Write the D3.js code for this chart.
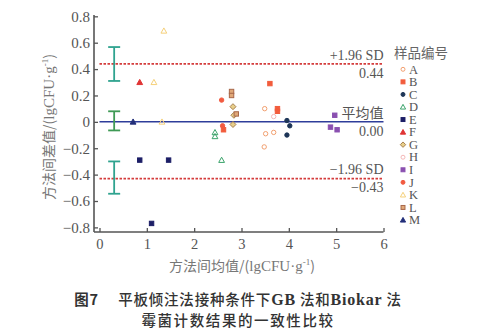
<!DOCTYPE html>
<html><head><meta charset="utf-8">
<script src="https://cdn.jsdelivr.net/npm/d3@7"></script>
<style>
html,body{margin:0;padding:0;background:#fff;}
svg{display:block;}
</style></head>
<body>
<svg id="chart" width="491" height="334"></svg>
<script>
// ---- data ----
const sampleIds = ["A","B","C","D","E","F","G","H","I","J","K","L","M"];
const ptsA = [[3.49,0.10],[3.51,-0.09],[3.68,-0.08],[3.48,-0.19]];
const ptsB = [[3.60,0.29],[3.76,0.10],[3.76,0.08],[2.62,-0.06]];
const ptsC = [[3.96,0.01],[4.02,-0.03],[3.96,-0.10]];
const ptsD = [[2.44,-0.08],[2.44,-0.11],[2.58,-0.29]];
const ptsE = [[0.85,-0.29],[1.46,-0.29],[1.10,-0.77]];
const ptsF = [[0.85,0.30]];
const ptsG = [[2.82,0.115],[2.84,0.05],[2.82,-0.02]];
const ptsH = [[3.68,0.04]];
const ptsI = [[4.97,0.05],[4.88,-0.04],[5.02,-0.06]];
const ptsJ = [[2.58,0.165],[2.60,-0.03]];
const ptsK = [[1.15,0.30],[1.36,0.69],[1.32,0.00]];
const ptsL = [[2.79,0.23],[2.79,0.20],[2.89,0.06]];
const ptsM = [[0.71,0.00]];
const meanDiff = 0.00;
const upperLoA = 0.44;
const lowerLoA = -0.43;
const ciUpper = [0.31, 0.567];
const ciMean = [-0.065, 0.08];
const ciLower = [-0.545, -0.30];
const ciX = 0.31;
const xTicks = [0,1,2,3,4,5,6];
const yTicks = [-0.8,-0.6,-0.4,-0.2,0,0.2,0.4,0.6,0.8];
const yTickLabels = ["−0.8","−0.6","−0.4","−0.2","0","0.2","0.4","0.6","0.8"];

// ---- styles per sample ----
const styleMap = {
  A:{shape:"circle", fill:"none", stroke:"#f2a070"},
  B:{shape:"square", fill:"#f25c3c", stroke:"#f25c3c"},
  C:{shape:"circle", fill:"#1d3557", stroke:"#1d3557"},
  D:{shape:"triangle", fill:"none", stroke:"#3aa36a"},
  E:{shape:"square", fill:"#1c1e66", stroke:"#1c1e66"},
  F:{shape:"triangle", fill:"#e03434", stroke:"#e03434"},
  G:{shape:"diamond", fill:"#e8cf8a", stroke:"#a88150"},
  H:{shape:"circle", fill:"none", stroke:"#f5b8b8"},
  I:{shape:"square", fill:"#8a50b0", stroke:"#8a50b0"},
  J:{shape:"circle", fill:"#f25a40", stroke:"#f25a40"},
  K:{shape:"triangle", fill:"none", stroke:"#f5d07a"},
  L:{shape:"square", fill:"#e0a878", stroke:"#a8684a"},
  M:{shape:"triangle", fill:"#23307a", stroke:"#23307a"}
};
const pointsBy = {A:ptsA,B:ptsB,C:ptsC,D:ptsD,E:ptsE,F:ptsF,G:ptsG,H:ptsH,I:ptsI,J:ptsJ,K:ptsK,L:ptsL,M:ptsM};

const svg = d3.select("#chart");
const x = d3.scaleLinear().domain([-0.116, 6]).range([94, 383.5]);
const y = d3.scaleLinear().domain([-0.835, 0.81]).range([232, 15]);

const serif = "'Liberation Serif','DejaVu Serif',serif";
const cjk = "'Noto Sans CJK SC','Noto Sans',sans-serif";

// axes
const axCol = "#555";
const xAxis = svg.append("g").attr("transform", `translate(0,${y(-0.835)})`)
  .call(d3.axisBottom(x).tickValues(xTicks).tickSize(-4).tickPadding(7).tickFormat(d3.format("d")));
const yAxis = svg.append("g").attr("transform", `translate(${x(-0.116)},0)`)
  .call(d3.axisLeft(y).tickValues(yTicks).tickSize(-4).tickPadding(4).tickFormat((d,i)=>yTickLabels[i]));
[xAxis,yAxis].forEach(g=>{
  g.select(".domain").attr("stroke",axCol).attr("stroke-width",1.6);
  g.selectAll(".tick line").attr("stroke",axCol).attr("stroke-width",1.3);
  g.selectAll(".tick text").attr("fill","#555").attr("font-family",serif).attr("font-size",15);
});
xAxis.selectAll(".tick text").attr("dy","0.72em").attr("font-size",14.5);
yAxis.select(".domain").attr("d", `M-0,${y(0.81)}V${y(-0.835)}`);
xAxis.select(".domain").attr("d", `M${x(-0.116)},0H${x(6)}`);

// reference lines
const plot = svg.append("g");
plot.append("line").attr("x1",x(0)).attr("x2",x(6)).attr("y1",y(meanDiff)).attr("y2",y(meanDiff))
  .attr("stroke","#2e3d9a").attr("stroke-width",1.5);
[upperLoA, lowerLoA].forEach(v=>{
  plot.append("line").attr("x1",x(0)).attr("x2",x(6)).attr("y1",y(v)).attr("y2",y(v))
    .attr("stroke","#d43c3c").attr("stroke-width",1.8).attr("stroke-dasharray","2.5,1.5");
});

// CI error bars
const ciList = [[ciUpper,"#2fa38f"],[ciMean,"#3f9a55"],[ciLower,"#2fa38f"]];
ciList.forEach(([r,c])=>{
  const g = plot.append("g").attr("stroke",c).attr("stroke-width",1.8);
  g.append("line").attr("x1",x(ciX)).attr("x2",x(ciX)).attr("y1",y(r[0])).attr("y2",y(r[1]));
  [r[0],r[1]].forEach(v=>g.append("line").attr("x1",x(ciX)-6).attr("x2",x(ciX)+6).attr("y1",y(v)).attr("y2",y(v)));
});

// symbol drawing
function drawSymbol(g, id, cx, cy, k){
  k = k || 1;
  const s = styleMap[id];
  let el;
  if(s.shape==="circle"){
    el = g.append("circle").attr("cx",cx).attr("cy",cy).attr("r",2.2*k);
  } else if(s.shape==="square"){
    el = g.append("rect").attr("x",cx-2.2*k).attr("y",cy-2.2*k).attr("width",4.4*k).attr("height",4.4*k);
  } else if(s.shape==="triangle"){
    el = g.append("path").attr("d",`M${cx},${cy-2.9*k}L${cx+2.9*k},${cy+2.3*k}L${cx-2.9*k},${cy+2.3*k}Z`);
  } else {
    el = g.append("path").attr("d",`M${cx},${cy-3*k}L${cx+3*k},${cy}L${cx},${cy+3*k}L${cx-3*k},${cy}Z`);
  }
  el.attr("fill",s.fill).attr("stroke",s.stroke).attr("stroke-width",1);
}

const ptsG_ = plot.append("g");
sampleIds.forEach(id=>{
  pointsBy[id].forEach(p=>drawSymbol(ptsG_, id, x(p[0]), y(p[1])));
});

// right-side labels
const lab = svg.append("g").attr("font-family",serif).attr("font-size",14).attr("fill","#555").attr("text-anchor","end");
const rx = x(6);
lab.append("text").attr("x",rx).attr("y",y(upperLoA)-4).text("+1.96 SD");
lab.append("text").attr("x",rx).attr("y",y(upperLoA)+14).text(upperLoA.toFixed(2));
lab.append("text").attr("x",rx).attr("y",y(meanDiff)-4).attr("font-family",cjk).attr("font-size",14).text("平均值");
lab.append("text").attr("x",rx).attr("y",y(meanDiff)+14).text(meanDiff.toFixed(2));
lab.append("text").attr("x",rx).attr("y",y(lowerLoA)-5).text("−1.96 SD");
lab.append("text").attr("x",rx).attr("y",y(lowerLoA)+13).text("−" + Math.abs(lowerLoA).toFixed(2));

// legend
const leg = svg.append("g");
leg.append("text").attr("x",394).attr("y",58).attr("font-family",cjk).attr("font-size",13.5)
  .attr("fill","#666").text("样品编号");
sampleIds.forEach((id,i)=>{
  const cy = 69.3 + i*12.56;
  drawSymbol(leg, id, 403, cy, 0.9);
  leg.append("text").attr("x",409).attr("y",cy+4.2).attr("font-family",serif).attr("font-size",12.5)
    .attr("fill","#555").text(id);
});

// axis titles
const xt = svg.append("text").attr("x",242).attr("y",271).attr("text-anchor","middle")
  .attr("font-family",cjk).attr("font-size",14).attr("fill","#777");
xt.append("tspan").text("方法间均值/(");
xt.append("tspan").attr("font-family",serif).attr("font-size",15).text("lgCFU·g");
xt.append("tspan").attr("font-family",serif).attr("font-size",9).attr("dy",-6).text("-1");
xt.append("tspan").attr("dy",6).text(")");

const yt = svg.append("text").attr("transform","translate(54,127) rotate(-90)").attr("text-anchor","middle")
  .attr("font-family",cjk).attr("font-size",14).attr("fill","#777");
yt.append("tspan").text("方法间差值/(");
yt.append("tspan").attr("font-family",serif).attr("font-size",15).text("lgCFU·g");
yt.append("tspan").attr("font-family",serif).attr("font-size",9).attr("dy",-6).text("-1");
yt.append("tspan").attr("dy",6).text(")");

// caption
const cap1 = svg.append("text").attr("x",238).attr("y",305).attr("text-anchor","middle")
  .attr("font-family",cjk).attr("font-size",14.5).attr("font-weight",500).attr("fill","#333").attr("letter-spacing",0.8);
cap1.append("tspan").attr("font-weight",700).text("图7");
cap1.append("tspan").text("\u2003 平板倾注法接种条件下");
cap1.append("tspan").attr("font-family",serif).attr("font-weight",700).attr("font-size",16).text("GB");
cap1.append("tspan").text(" 法和");
cap1.append("tspan").attr("font-family",serif).attr("font-weight",700).attr("font-size",16).text("Biokar");
cap1.append("tspan").text(" 法");
svg.append("text").attr("x",238).attr("y",326).attr("text-anchor","middle")
  .attr("font-family",cjk).attr("font-size",14.5).attr("font-weight",500).attr("fill","#333").attr("letter-spacing",1.6)
  .text("霉菌计数结果的一致性比较");
</script>
</body></html>
